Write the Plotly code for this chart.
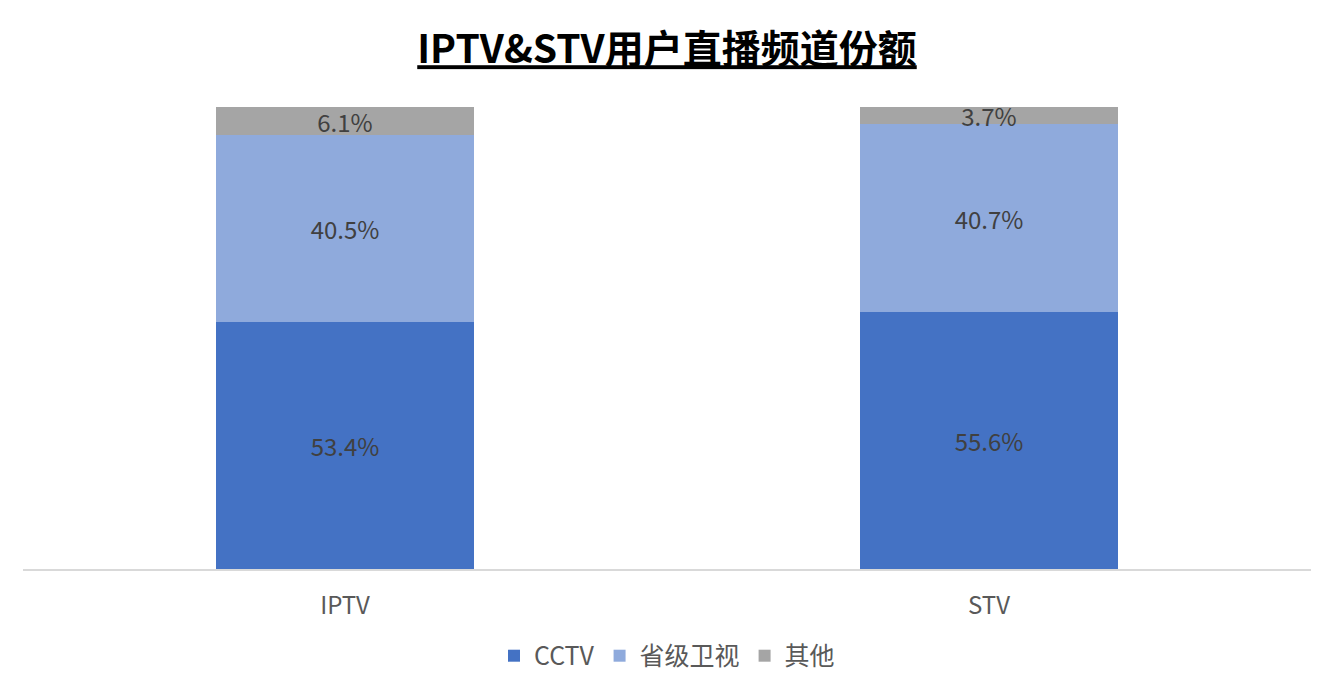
import plotly.graph_objects as go

categories = ['IPTV', 'STV']
cctv = [53.4, 55.6]
provincial = [40.5, 40.7]
others = [6.1, 3.7]

series = [
    ('CCTV', cctv, '#4472C4'),
    ('省级卫视', provincial, '#8FAADC'),
    ('其他', others, '#A5A5A5'),
]

fig = go.Figure()
for name, vals, colour in series:
    fig.add_trace(go.Bar(
        x=categories,
        y=vals,
        name=name,
        marker=dict(color=colour, line=dict(width=0)),
        text=[f'{v:.1f}%' for v in vals],
        textposition='inside',
        insidetextanchor='middle',
        constraintext='none',
        textfont=dict(size=24, color='#404040'),
        width=0.4,
    ))

# page body has an 8px margin, so margins are shifted to compensate
fig.update_layout(
    barmode='stack',
    width=1334,
    height=693,
    margin=dict(l=15, r=31, t=99, b=128),
    paper_bgcolor='white',
    plot_bgcolor='white',
    font=dict(family='Noto Sans CJK SC', color='#595959'),
    title=dict(
        text='<b><u>IPTV&amp;STV用户直播频道份额</u></b>',
        x=0.5,
        xanchor='center',
        xref='paper',
        yref='container',
        y=0.94,
        yanchor='middle',
        font=dict(size=39, color='black'),
    ),
    showlegend=True,
    legend=dict(
        orientation='h',
        x=0.5,
        xanchor='center',
        yref='container',
        y=0.065,
        yanchor='middle',
        font=dict(size=25, color='#595959'),
        traceorder='normal',
    ),
)

fig.update_xaxes(
    showline=True,
    linecolor='#D9D9D9',
    linewidth=1.5,
    tickfont=dict(size=24, color='#595959'),
    ticks='',
    ticklabelstandoff=14,
)
fig.update_yaxes(
    range=[0, 100],
    showgrid=False,
    showticklabels=False,
    zeroline=False,
)

fig.write_html('out.html')
